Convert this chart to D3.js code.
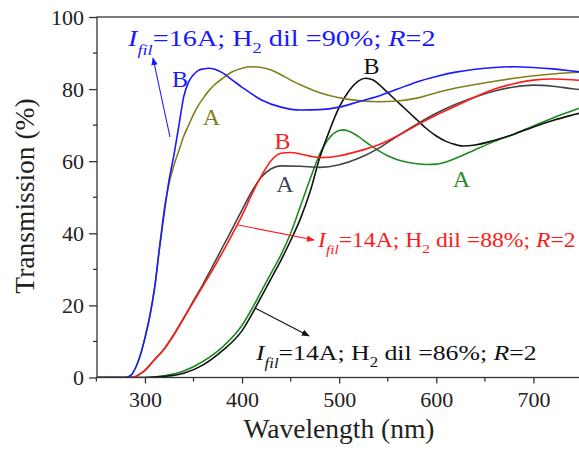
<!DOCTYPE html>
<html>
<head>
<meta charset="utf-8">
<script src="https://cdn.jsdelivr.net/npm/d3@7"></script>
<style>
  html, body { margin: 0; padding: 0; background: #fff; }
  svg { display: block; }
  svg text { font-family: 'Liberation Serif', 'Times New Roman', serif; }
</style>
</head>
<body>
<div id="chart"></div>
<script>
// ── Data (wavelength nm, transmission %) ──
const wl16B = [250, 280, 285, 290, 295, 300, 305, 310, 315, 320, 325, 330, 335, 340, 345, 350, 355, 360, 366, 372, 380, 390, 400, 420, 440, 460, 480, 500, 520, 540, 560, 580, 600, 620, 640, 660, 680, 700, 720, 740, 750];
const tr16B = [0, 0, 0.5, 2.5, 6, 11, 17, 25, 36, 46, 55, 62, 70, 78, 82, 84, 85.2, 85.6, 85.8, 85.5, 84.5, 82.5, 80.5, 77, 75, 74.2, 74.3, 75, 76.5, 78, 80, 82, 83.5, 84.7, 85.5, 86, 86.2, 86, 85.6, 85, 84.7];

const wl16A = [250, 280, 285, 290, 295, 300, 305, 310, 315, 320, 325, 330, 335, 340, 345, 350, 355, 360, 365, 370, 380, 390, 400, 410, 420, 430, 440, 450, 460, 480, 500, 520, 540, 560, 580, 600, 620, 640, 660, 680, 700, 720, 740, 750];
const tr16A = [0, 0, 0.5, 2.5, 6, 11, 17, 25, 36, 47, 54, 59, 63, 67, 70, 73, 75.5, 77.5, 79.3, 80.8, 83, 84.8, 85.8, 86.2, 86, 85.3, 84, 82.5, 81.2, 79, 77.6, 76.8, 76.5, 76.7, 77.5, 79, 80.3, 81.3, 82.2, 83, 83.7, 84.2, 84.6, 84.7];

const wl88B = [250, 285, 290, 295, 300, 310, 320, 330, 340, 350, 360, 370, 380, 390, 400, 410, 420, 430, 440, 450, 460, 470, 480, 490, 500, 520, 540, 560, 580, 600, 620, 640, 660, 680, 700, 720, 740, 750];
const tr88B = [0, 0, 0.2, 1, 2, 5, 8, 12, 16.5, 21, 25.5, 30, 34.8, 39.8, 45, 50.8, 56, 60.2, 62.2, 62.4, 62, 61.4, 61, 61.1, 61.5, 62.8, 64.5, 67, 70, 72.8, 75.3, 77.8, 80, 81.5, 82.5, 82.8, 82.6, 82.4];

const wl88A = [250, 285, 290, 295, 300, 310, 320, 330, 340, 350, 360, 370, 380, 390, 400, 410, 420, 430, 440, 460, 480, 500, 520, 540, 560, 580, 600, 620, 640, 660, 680, 700, 720, 740, 750];
const tr88A = [0, 0, 0.2, 1, 2, 5, 8, 12, 16.5, 21.3, 26, 31, 36.2, 41.3, 46.5, 51.6, 55.6, 57.9, 58.7, 58.6, 58.3, 59, 60.8, 63.5, 67, 70.3, 73.3, 75.8, 77.8, 79.5, 80.6, 81.1, 80.8, 80.1, 79.8];

const wl86B = [250, 300, 320, 340, 360, 380, 400, 410, 420, 430, 440, 450, 460, 470, 480, 490, 500, 510, 520, 527, 535, 540, 550, 560, 570, 580, 590, 600, 610, 620, 628, 640, 660, 680, 700, 720, 740, 750];
const tr86B = [0, 0, 0.3, 1.2, 3.5, 7.5, 13, 17.5, 22.5, 27.5, 32.5, 38, 44, 51.5, 61, 68.5, 75, 79.5, 82.3, 83, 82.5, 81.5, 79, 76.5, 74, 71.5, 69, 67, 65.5, 64.6, 64.2, 64.5, 65.8, 67.5, 69.5, 71.3, 72.8, 73.5];

const wl86A = [250, 300, 320, 340, 360, 380, 400, 410, 420, 430, 440, 450, 460, 470, 480, 490, 500, 505, 510, 520, 530, 540, 550, 560, 570, 580, 590, 600, 610, 620, 640, 660, 680, 700, 720, 740, 750];
const tr86A = [0, 0, 0.5, 1.8, 4.5, 8.5, 14.5, 19, 24, 29, 34, 40, 47.5, 55, 62, 66.5, 68.5, 68.7, 68.3, 66.8, 64.8, 63, 61.5, 60.4, 59.7, 59.3, 59.1, 59.2, 59.8, 60.8, 63.2, 65.5, 67.5, 69.8, 72, 74, 75];

const xTicks = [300, 400, 500, 600, 700];
const yTicks = [0, 20, 40, 60, 80, 100];

const W = 579, H = 450;
const margin = { left: 97, top: 17, right: 582, bottom: 377.5 };
const FONT = "'Liberation Serif', 'Times New Roman', serif";

const svg = d3.select('#chart').append('svg').attr('width', W).attr('height', H);

const x = d3.scaleLinear().domain([250, 750]).range([margin.left - 0.6, margin.right]);
const y = d3.scaleLinear().domain([0, 100]).range([margin.bottom, margin.top]);

// ── Curves ──
const series = [
  { wl: wl86A, tr: tr86A, color: '#1f8a1f' },
  { wl: wl86B, tr: tr86B, color: '#111111' },
  { wl: wl88A, tr: tr88A, color: '#444444' },
  { wl: wl88B, tr: tr88B, color: '#ff1a1a' },
  { wl: wl16A, tr: tr16A, color: '#808019' },
  { wl: wl16B, tr: tr16B, color: '#1a1aff' }
];

svg.append('defs').append('clipPath').attr('id', 'plotClip')
  .append('rect').attr('x', margin.left).attr('y', margin.top)
  .attr('width', margin.right - margin.left).attr('height', margin.bottom - margin.top);

const line = d3.line().x(d => x(d[0])).y(d => y(d[1])).curve(d3.curveMonotoneX);
const curves = svg.append('g').attr('clip-path', 'url(#plotClip)');
series.forEach(s => {
  curves.append('path')
    .attr('d', line(s.wl.map((w, i) => [w, s.tr[i]])))
    .attr('fill', 'none').attr('stroke', s.color).attr('stroke-width', 1.6);
});

// ── Axes ──
const axisColor = '#333';
const xAxis = d3.axisBottom(x).tickValues(xTicks).tickSize(6).tickPadding(8);
const yAxis = d3.axisLeft(y).tickValues(yTicks).tickSize(8).tickPadding(5);

const gx = svg.append('g').attr('transform', `translate(0,${margin.bottom})`).call(xAxis);
const gy = svg.append('g').attr('transform', `translate(${margin.left},0)`).call(yAxis);
[gx, gy].forEach(g => {
  g.attr('font-family', FONT).attr('font-size', 22);
  g.select('.domain').remove();
  g.selectAll('line').attr('stroke', axisColor).attr('stroke-width', 1.3);
  g.selectAll('text').attr('fill', '#222');
});

// minor ticks
const minorX = d3.range(250, 751, 50).filter(v => !xTicks.includes(v));
svg.append('g').selectAll('line').data(minorX).join('line')
  .attr('x1', d => x(d)).attr('x2', d => x(d))
  .attr('y1', margin.bottom).attr('y2', margin.bottom + 4)
  .attr('stroke', axisColor).attr('stroke-width', 1.3);
const minorY = d3.range(10, 100, 20);
svg.append('g').selectAll('line').data(minorY).join('line')
  .attr('x1', margin.left).attr('x2', margin.left - 4)
  .attr('y1', d => y(d)).attr('y2', d => y(d))
  .attr('stroke', axisColor).attr('stroke-width', 1.3);

// frame
svg.append('rect')
  .attr('x', margin.left).attr('y', margin.top)
  .attr('width', margin.right - margin.left).attr('height', margin.bottom - margin.top)
  .attr('fill', 'none').attr('stroke', axisColor).attr('stroke-width', 1.3);

// axis titles
svg.append('text').attr('x', 339).attr('y', 438).attr('text-anchor', 'middle')
  .attr('fill', '#222').attr('font-size', 27.5).text('Wavelength (nm)');
svg.append('text').attr('transform', 'translate(34,196) rotate(-90)').attr('text-anchor', 'middle')
  .attr('fill', '#222').attr('font-size', 27.5).text('Transmission (%)');

// ── Curve labels ──
const labels = [
  { t: 'B', x: 180, y: 86.5, c: '#1a1aff' },
  { t: 'A', x: 211.5, y: 125, c: '#808019' },
  { t: 'B', x: 282.5, y: 148.5, c: '#ff1a1a' },
  { t: 'A', x: 285, y: 191.5, c: '#3b4660' },
  { t: 'B', x: 371.5, y: 74, c: '#111' },
  { t: 'A', x: 461.5, y: 187, c: '#2a8a2a' }
];
svg.append('g').selectAll('text').data(labels).join('text')
  .attr('x', d => d.x).attr('y', d => d.y).attr('text-anchor', 'middle')
  .attr('fill', d => d.c).attr('font-size', 24).text(d => d.t);

// ── Annotations (the source lettering is horizontally stretched) ──
function annotation(x0, y0, current, dil, color, fs, width) {
  const t = svg.append('text').attr('x', 0).attr('y', 0).attr('fill', color).attr('font-size', fs);
  t.append('tspan').attr('font-style', 'italic').text('I');
  t.append('tspan').attr('font-style', 'italic').attr('font-size', fs * 0.65).attr('dy', fs * 0.38).text('fil');
  t.append('tspan').attr('dy', -fs * 0.38).text('=' + current + '; H');
  t.append('tspan').attr('font-size', fs * 0.65).attr('dy', fs * 0.32).text('2');
  t.append('tspan').attr('dy', -fs * 0.32).text(' dil =' + dil + '; ');
  t.append('tspan').attr('font-style', 'italic').text('R');
  t.append('tspan').text('=2');
  const w = t.node().getBBox().width;
  const k = Math.max(1, Math.min(1.35, width / w));
  t.attr('transform', `translate(${x0},${y0}) scale(${k},1)`);
}
annotation(128, 46, '16A', '90%', '#1a1aff', 23, 309);
annotation(318, 246.5, '14A', '88%', '#ff1a1a', 20.5, 259);
annotation(256, 360, '14A', '86%', '#111', 22, 282);

// arrows
const defs = svg.select('defs');
[['blue', '#1a1aff'], ['red', '#ff1a1a'], ['black', '#111']].forEach(([id, c]) => {
  defs.append('marker').attr('id', 'arr-' + id)
    .attr('viewBox', '0 -5 10 10').attr('refX', 9).attr('refY', 0)
    .attr('markerWidth', 8).attr('markerHeight', 8).attr('markerUnits', 'userSpaceOnUse')
    .attr('orient', 'auto')
    .append('path').attr('d', 'M0,-4L10,0L0,4Z').attr('fill', c);
});
const arrows = [
  { x1: 170, y1: 137, x2: 153, y2: 58, id: 'blue', c: '#1a1aff' },
  { x1: 238, y1: 225, x2: 314, y2: 240, id: 'red', c: '#ff1a1a' },
  { x1: 255, y1: 308, x2: 309, y2: 336, id: 'black', c: '#111' }
];
arrows.forEach(a => {
  svg.append('line').attr('x1', a.x1).attr('y1', a.y1).attr('x2', a.x2).attr('y2', a.y2)
    .attr('stroke', a.c).attr('stroke-width', 1.1).attr('marker-end', `url(#arr-${a.id})`);
});
</script>
</body>
</html>
